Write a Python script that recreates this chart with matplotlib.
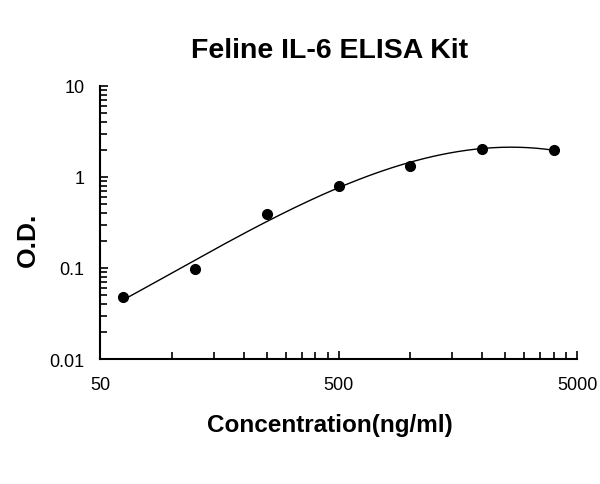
import numpy as np
import matplotlib
matplotlib.use('Agg')
import matplotlib.pyplot as plt
from matplotlib.ticker import FixedLocator, NullFormatter

# standard curve readings
conc = [62.5, 125, 250, 500, 1000, 2000, 4000]
od = [0.048, 0.097, 0.39, 0.80, 1.32, 2.05, 2.00]

x_ticks = [50, 500, 5000]
y_ticks = [0.01, 0.1, 1, 10]

plt.rcParams['font.family'] = ['Liberation Sans', 'DejaVu Sans']

fig = plt.figure(figsize=(6, 4.85), dpi=100)
ax = fig.add_axes([0.1667, 0.2577, 0.795, 0.563])

# cubic fit in log-log space
lx = np.log10(conc)
ly = np.log10(od)
coef = np.polyfit(lx, ly, 3)
xs = np.linspace(lx[0], lx[-1], 200)
ax.plot(10 ** xs, 10 ** np.polyval(coef, xs), color='black', lw=1)
ax.plot(conc, od, 'o', color='black', ms=7)

ax.set_xscale('log')
ax.set_yscale('log')
ax.set_xlim(50, 5000)
ax.set_ylim(0.01, 10)

ax.xaxis.set_major_locator(FixedLocator(x_ticks))
ax.set_xticklabels([str(v) for v in x_ticks])
xminor = [50 * k * 10 ** n for n in range(2) for k in range(2, 10)]
ax.xaxis.set_minor_locator(FixedLocator(xminor))
ax.xaxis.set_minor_formatter(NullFormatter())

ax.yaxis.set_major_locator(FixedLocator(y_ticks))
ax.set_yticklabels(['0.01', '0.1', '1', '10'])
yminor = [k * 10.0 ** n for n in range(-2, 1) for k in range(2, 10)]
ax.yaxis.set_minor_locator(FixedLocator(yminor))
ax.yaxis.set_minor_formatter(NullFormatter())

ax.tick_params(which='both', direction='in', width=1.2, labelsize=13)
ax.tick_params(axis='y', pad=11)
ax.tick_params(axis='x', pad=12)
ax.tick_params(which='major', length=6)
ax.tick_params(which='minor', length=5)

for s in ['top', 'right']:
    ax.spines[s].set_visible(False)
for s in ['left', 'bottom']:
    ax.spines[s].set_linewidth(1.5)

fig.text(0.55, 0.895, 'Feline IL-6 ELISA Kit', ha='center', va='center',
         fontsize=20.5, fontweight='bold')
fig.text(0.55, 0.122, 'Concentration(ng/ml)', ha='center', va='center',
         fontsize=17.5, fontweight='bold')
fig.text(0.047, 0.505, 'O.D.', ha='center', va='center', rotation=90,
         fontsize=19, fontweight='bold')

fig.savefig('out.png', dpi=100)
